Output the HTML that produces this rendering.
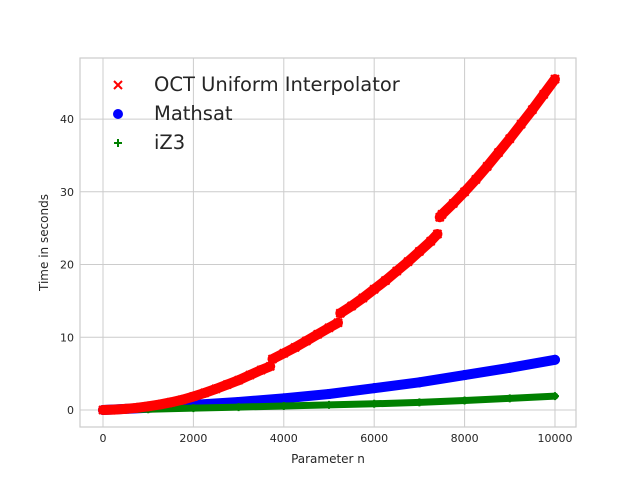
<!DOCTYPE html>
<html><head><meta charset="utf-8"><style>
body{margin:0;background:#fff;}
svg text{font-family:"DejaVu Sans","Liberation Sans",sans-serif;fill:#262626;}
</style></head><body>
<svg id="chart" width="640" height="480" viewBox="0 0 640 480" xmlns="http://www.w3.org/2000/svg">
<rect width="640" height="480" fill="#fff"/>
<g id="grid"></g>
<g id="series"></g>
<g id="axes"></g>
<g id="legend">
  <g>
    <path d="M114,81L122,89M114,89L122,81" stroke="#ff0000" stroke-width="2"/>
    <text x="154" y="91" font-size="19.5">OCT Uniform Interpolator</text>
  </g>
  <g>
    <circle cx="118" cy="114" r="5" fill="#0000ff"/>
    <text x="154" y="120" font-size="19.5">Mathsat</text>
  </g>
  <g>
    <path d="M114,143L122,143M118,139L118,147" stroke="#008000" stroke-width="2"/>
    <text x="154" y="149" font-size="19.5">iZ3</text>
  </g>
</g>
</svg>
<script>
const redN = [0,250,500,750,1000,1250,1500,1750,2000,2250,2500,2750,3000,3250,3500,3700,3750,4000,4250,4500,4750,5000,5200,5250,5500,5750,6000,6250,6500,6750,7000,7250,7400,7450,7500,7750,8000,8250,8500,8750,9000,9250,9500,9750,10000];
const redT = [0,0.05,0.15,0.3,0.5,0.75,1.05,1.4,1.85,2.35,2.9,3.5,4.1,4.8,5.5,6.0,7.0,7.8,8.6,9.5,10.4,11.3,12.0,13.3,14.3,15.4,16.6,17.8,19.1,20.4,21.8,23.2,24.2,26.5,26.9,28.4,30.0,31.7,33.5,35.4,37.3,39.3,41.3,43.4,45.5];
const blueN = [0,1000,2000,3000,4000,5000,6000,7000,8000,9000,10000];
const blueT = [0,0.3,0.7,1.1,1.6,2.2,3.0,3.8,4.8,5.8,6.9];
const greenN = [0,1000,2000,3000,4000,5000,6000,7000,8000,9000,10000];
const greenT = [0,0.1,0.25,0.4,0.55,0.7,0.85,1.05,1.3,1.6,1.9];
const xTicks = [0,2000,4000,6000,8000,10000];
const yTicks = [0,10,20,30,40];

const L=80,R=576,T=58,B=427;
const xMin=-509,xMax=10465,yMin=-2.34,yMax=48.4;
const xs=v=>L+(v-xMin)/(xMax-xMin)*(R-L);
const ys=v=>B-(v-yMin)/(yMax-yMin)*(B-T);
const NS="http://www.w3.org/2000/svg";
function mk(tag,attrs,parent){const e=document.createElementNS(NS,tag);for(const k in attrs)e.setAttribute(k,attrs[k]);parent.appendChild(e);return e;}
const grid=document.getElementById('grid'),axes=document.getElementById('axes'),ser=document.getElementById('series');
const bg=mk('rect',{x:L,y:T,width:R-L,height:B-T,fill:'#fff'},grid);


xTicks.forEach(t=>{
  const l=mk('line',{x1:xs(t),x2:xs(t),y1:T,y2:B,stroke:'#cccccc','stroke-width':1},grid);
  
  
  const tx=mk('text',{x:xs(t),y:B+15,'font-size':11,'text-anchor':'middle'},axes);
  tx.textContent=t;
  
  
});
yTicks.forEach(t=>{
  const l=mk('line',{x1:L,x2:R,y1:ys(t),y2:ys(t),stroke:'#cccccc','stroke-width':1},grid);
  
  
  const tx=mk('text',{x:L-6,y:ys(t)+4,'font-size':11,'text-anchor':'end'},axes);
  tx.textContent=t;
  
  
});
const fr=mk('rect',{x:L,y:T,width:R-L,height:B-T,fill:'none',stroke:'#cccccc','stroke-width':1.2},axes);


const xl=mk('text',{x:(L+R)/2,y:463,'font-size':12,'text-anchor':'middle'},axes);
xl.textContent='Parameter n';


const yl=mk('text',{x:0,y:0,'font-size':12,'text-anchor':'middle',transform:`translate(48,${(T+B)/2}) rotate(-90)`},axes);
yl.textContent='Time in seconds';



function draw(N,Tv,color,w,name,marker){
  for(let i=0;i<N.length-1;i++){
    const dn=N[i+1]-N[i], dt=Tv[i+1]-Tv[i];
    if(dn<=60 && dt>0.5) continue;
    const seg=mk('line',{x1:xs(N[i]),y1:ys(Tv[i]),x2:xs(N[i+1]),y2:ys(Tv[i+1]),stroke:color,'stroke-width':w,'stroke-linecap':'round'},ser);
    
    
  }
  N.forEach((n,i)=>{
    const x=xs(n),y=ys(Tv[i]);let m;
    if(marker==='x'){m=mk('path',{d:`M${x-4},${y-4}L${x+4},${y+4}M${x-4},${y+4}L${x+4},${y-4}`,stroke:color,'stroke-width':2},ser);}
    else if(marker==='o'){m=mk('circle',{cx:x,cy:y,r:w/2,fill:color},ser);}
    else{m=mk('path',{d:`M${x-4},${y}L${x+4},${y}M${x},${y-4}L${x},${y+4}`,stroke:color,'stroke-width':2},ser);}
    
    
  });
}
draw(blueN,blueT,'#0000ff',10,'mathsat','o');
draw(greenN,greenT,'#008000',7,'iz3','+');
draw(redN,redT,'#ff0000',10,'oct','x');
</script>
</body></html>
